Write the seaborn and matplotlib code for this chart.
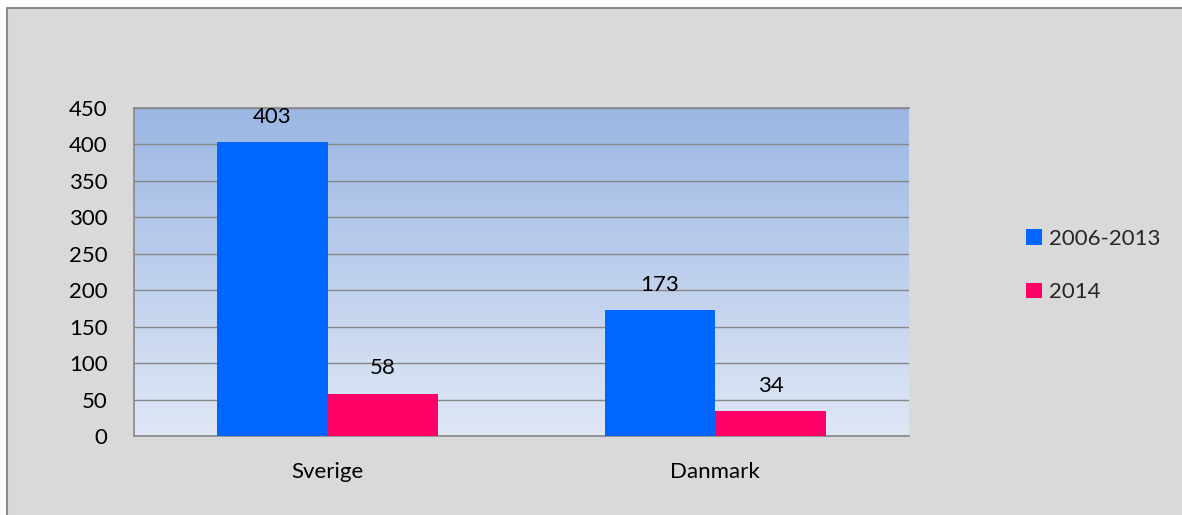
import numpy as np
import pandas as pd
import matplotlib
matplotlib.use("Agg")
import matplotlib.pyplot as plt
from matplotlib.patches import Rectangle
from matplotlib.lines import Line2D
from matplotlib.colors import LinearSegmentedColormap
import seaborn as sns

# Data
countries = ["Sverige", "Danmark"]
periods = ["2006-2013", "2014"]
values_2006_2013 = [403, 173]
values_2014 = [58, 34]
yticks = [0, 50, 100, 150, 200, 250, 300, 350, 400, 450]

df = pd.DataFrame({
    "land": countries * 2,
    "period": [periods[0]] * 2 + [periods[1]] * 2,
    "antal": values_2006_2013 + values_2014,
})

sns.set_style("white")
plt.rcParams["font.family"] = ["Lato", "DejaVu Sans"]
FS = 16

W, H = 1182, 515
fig = plt.figure(figsize=(W / 100, H / 100), dpi=100, facecolor="#d9d9d9")

# White margin on the left and top, with the chart-area border
fig.patches.append(Rectangle((0, 0), 6.5 / W, 1, transform=fig.transFigure,
                             facecolor="white", edgecolor="none", zorder=-10))
fig.patches.append(Rectangle((0, 1 - 7.5 / H), 1, 7.5 / H,
                             transform=fig.transFigure, facecolor="white",
                             edgecolor="none", zorder=-10))
fig.lines.append(Line2D([7 / W, 7 / W], [0, 1 - 7.5 / H],
                        transform=fig.transFigure, color="#8a8a8a", lw=1.5))
fig.lines.append(Line2D([7 / W, 1], [1 - 7.5 / H, 1 - 7.5 / H],
                        transform=fig.transFigure, color="#8a8a8a", lw=1.5))

ax = fig.add_axes([134 / W, 1 - 436 / H, (909 - 134) / W, (436 - 108) / H])
ax.set_zorder(1)
ax.set_facecolor("none")

# Vertical gradient in the plot area
cmap = LinearSegmentedColormap.from_list("bg", ["#dfe7f5", "#9cb7e4"])
grad = np.linspace(0, 1, 256).reshape(-1, 1)
ax.imshow(grad, aspect="auto", cmap=cmap, origin="lower",
          extent=[-0.5, 1.5, 0, 450], zorder=0)

palette = {"2006-2013": "#0066ff", "2014": "#ff0066"}
sns.barplot(data=df, x="land", y="antal", hue="period", hue_order=periods,
            order=countries, palette=palette, width=0.57, gap=0,
            saturation=1, linewidth=0, ax=ax, zorder=3, legend=True)

ax.set_xlim(-0.5, 1.5)
ax.set_ylim(0, 450)
ax.set_yticks(yticks)
ax.yaxis.grid(True, color="#878787", linewidth=1.0, zorder=1)
ax.set_axisbelow(True)
ax.set_xlabel("")
ax.set_ylabel("")
ax.tick_params(axis="both", length=0, labelsize=FS, colors="black")
ax.tick_params(axis="y", pad=19)
ax.tick_params(axis="x", pad=19)

ax.spines["right"].set_visible(False)
for side in ["left", "top", "bottom"]:
    ax.spines[side].set_color("#878787")
    ax.spines[side].set_linewidth(1.2)

# Value labels
for cont in ax.containers:
    labels = [f"{int(round(v))}" for v in cont.datavalues]
    ax.bar_label(cont, labels=labels, padding=11, fontsize=FS, color="black")

leg = ax.legend(loc="center left", bbox_to_anchor=(1.14, 0.52),
                frameon=False, fontsize=FS, handlelength=0.7,
                handleheight=0.7, handletextpad=0.3, labelspacing=1.5,
                borderaxespad=0)

fig.savefig("out.png", dpi=100, facecolor=fig.get_facecolor())
